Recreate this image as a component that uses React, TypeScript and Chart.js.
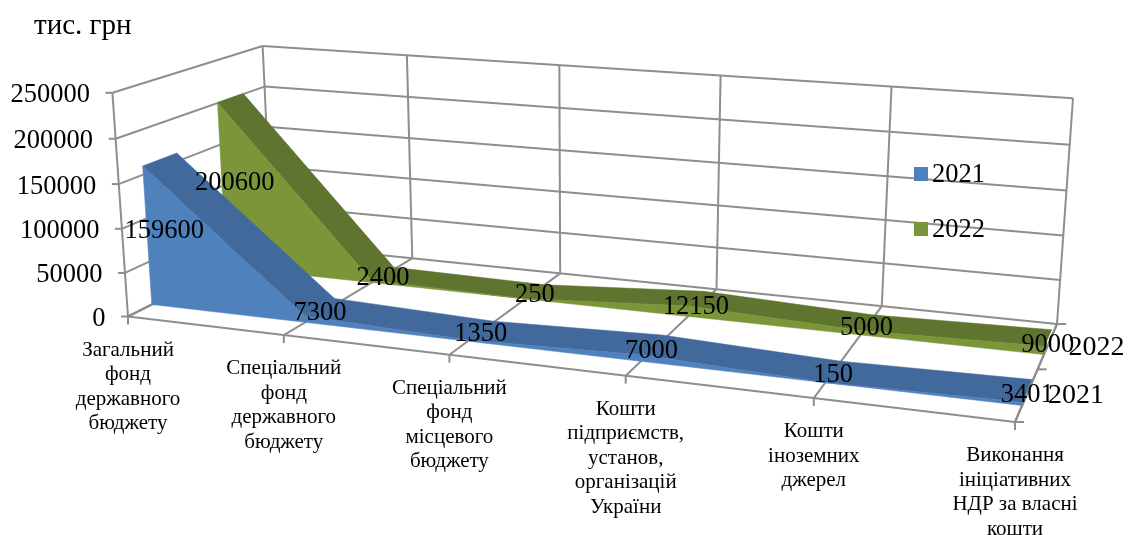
import React, { useEffect, useRef } from "react";
import { Chart, LineController, LineElement, PointElement, CategoryScale, LinearScale } from "chart.js";

// Funding sources and amounts, thousand UAH
const categories: string[][] = [
  ["Загальний", "фонд", "державного", "бюджету"],
  ["Спеціальний", "фонд", "державного", "бюджету"],
  ["Спеціальний", "фонд", "місцевого", "бюджету"],
  ["Кошти", "підприємств,", "установ,", "організацій", "України"],
  ["Кошти", "іноземних", "джерел"],
  ["Виконання", "ініціативних", "НДР за власні", "кошти"],
];
const values2021 = [159600, 7300, 1350, 7000, 150, 3401];
const values2022 = [200600, 2400, 250, 12150, 5000, 9000];
const seriesNames = ["2021", "2022"];
const frontColors = ["#4F81BD", "#7B9539"];
const ridgeColors = ["#41699B", "#5F752F"];
const unitLabel = "тис. грн";

// Extent of each series along the depth axis (0 = front, 1 = back wall)
const depthBands = [
  [0.148, 0.365],
  [0.655, 0.84],
];

type Pt = { x: number; y: number };
const P = (x: number, y: number): Pt => ({ x, y });

// Solves the 3x3 linear system M s = r by Cramer's rule
function solve3(M: number[][], r: number[]) {
  const det = (m: number[][]) =>
    m[0][0] * (m[1][1] * m[2][2] - m[1][2] * m[2][1]) -
    m[0][1] * (m[1][0] * m[2][2] - m[1][2] * m[2][0]) +
    m[0][2] * (m[1][0] * m[2][1] - m[1][1] * m[2][0]);
  const d = det(M);
  return [0, 1, 2].map((c) => det(M.map((row, i) => row.map((val, j) => (j === c ? r[i] : val)))) / d);
}

// Single projective camera for the box: u along categories, v into depth, h upward.
// The floor fixes everything except the height column, which is fitted to the ceiling corners.
function makeCamera(p0: Pt, p1: Pt, p2: Pt, p3: Pt, top: { u: number; v: number; at: Pt }[]) {
  const sx = p0.x - p1.x + p2.x - p3.x;
  const sy = p0.y - p1.y + p2.y - p3.y;
  const dx1 = p1.x - p2.x, dx2 = p3.x - p2.x, dy1 = p1.y - p2.y, dy2 = p3.y - p2.y;
  const det = dx1 * dy2 - dx2 * dy1;
  const g = (sx * dy2 - dx2 * sy) / det;
  const k = (dx1 * sy - sx * dy1) / det;
  const a = p1.x - p0.x + g * p1.x, b = p3.x - p0.x + k * p3.x;
  const d = p1.y - p0.y + g * p1.y, e = p3.y - p0.y + k * p3.y;

  // Unknowns [cx, cy, ci]: cx - X ci = X w - Nx, cy - Y ci = Y w - Ny
  const rows: number[][] = [];
  const rhs: number[] = [];
  top.forEach(({ u, v, at }) => {
    const w = g * u + k * v + 1;
    rows.push([1, 0, -at.x]);
    rhs.push(at.x * w - (a * u + b * v + p0.x));
    rows.push([0, 1, -at.y]);
    rhs.push(at.y * w - (d * u + e * v + p0.y));
  });
  const normal = [0, 1, 2].map((i) => [0, 1, 2].map((j) => rows.reduce((s, r) => s + r[i] * r[j], 0)));
  const target = [0, 1, 2].map((i) => rows.reduce((s, r, n) => s + r[i] * rhs[n], 0));
  const [cx, cy, ci] = solve3(normal, target);

  return (u: number, v: number, h: number): Pt => {
    const w = g * u + k * v + ci * h + 1;
    return P((a * u + b * v + cx * h + p0.x) / w, (d * u + e * v + cy * h + p0.y) / w);
  };
}

const project = makeCamera(P(128, 316.5), P(1015, 422), P(1057, 324), P(272, 244), [
  { u: 0, v: 0, at: P(112, 93) },
  { u: 0, v: 1, at: P(263, 47) },
  { u: 1, v: 1, at: P(1073, 97) },
]);

const decimalOf = (scale: any, value: number) => scale.getDecimalForPixel(scale.getPixelForValue(value));

const serif = '"Liberation Serif", "Times New Roman", serif';
const gridColor = "#8E8E8E";

// Area chart extruded along the depth axis: ridge first, front face over it
class Area3DController extends LineController {
  static id = "area3d";
  static defaults = { ...LineController.defaults };
  static overrides = LineController.overrides;

  draw() {
    const ctx = this.chart.ctx;
    const meta = this.getMeta();
    const xs = meta.xScale as any, ys = meta.yScale as any;
    const [v0, v1] = depthBands[this.index];
    const n = meta.data.length;
    const uAt = (i: number) => decimalOf(xs, i);
    const hAt = (i: number) => decimalOf(ys, this.getParsed(i).y as number);
    const fillPoly = (pts: Pt[], color: string) => {
      ctx.beginPath();
      pts.forEach((p, k) => (k ? ctx.lineTo(p.x, p.y) : ctx.moveTo(p.x, p.y)));
      ctx.closePath();
      ctx.fillStyle = color;
      ctx.strokeStyle = color;
      ctx.lineWidth = 0.5;
      ctx.fill();
      ctx.stroke();
    };
    ctx.save();
    for (let i = 0; i < n - 1; i++) {
      fillPoly(
        [
          project(uAt(i), v0, hAt(i)),
          project(uAt(i), v1, hAt(i)),
          project(uAt(i + 1), v1, hAt(i + 1)),
          project(uAt(i + 1), v0, hAt(i + 1)),
        ],
        ridgeColors[this.index]
      );
    }
    const front: Pt[] = [project(uAt(0), v0, 0)];
    for (let i = 0; i < n; i++) front.push(project(uAt(i), v0, hAt(i)));
    front.push(project(uAt(n - 1), v0, 0));
    fillPoly(front, frontColors[this.index]);
    ctx.restore();
  }
}

const line = (ctx: CanvasRenderingContext2D, a: Pt, b: Pt) => {
  ctx.beginPath();
  ctx.moveTo(a.x, a.y);
  ctx.lineTo(b.x, b.y);
  ctx.stroke();
};

// Walls, floor and their tick marks, behind the series
const boxPlugin = {
  id: "box3d",
  beforeDatasetsDraw(chart: any) {
    const { ctx, scales } = chart;
    const xs = scales.x, ys = scales.y;
    const count = chart.data.labels.length;
    ctx.save();
    ctx.strokeStyle = gridColor;
    ctx.lineWidth = 2;
    ys.ticks.forEach((t: any) => {
      const h = decimalOf(ys, t.value);
      const front = project(0, 0, h);
      const back = project(0, 1, h);
      const right = project(1, 1, h);
      line(ctx, P(front.x - 7, front.y), front);
      line(ctx, front, back);
      line(ctx, back, right);
    });
    for (let i = 0; i < count; i++) {
      const u = decimalOf(xs, i);
      const f = project(u, 0, 0);
      line(ctx, P(f.x, f.y + 8), f);
      line(ctx, f, project(u, 1, 0));
      line(ctx, project(u, 1, 0), project(u, 1, 1));
    }
    line(ctx, project(0, 0, 0), project(1, 0, 0));
    line(ctx, project(1, 0, 0), project(1, 1, 0));
    line(ctx, project(0, 0, 0), project(0, 0, 1));
    [0, 0.5, 1].forEach((v) => {
      const p = project(1, v, 0);
      line(ctx, p, P(p.x + 9, p.y));
    });
    ctx.restore();
  },
  // Text sits on top of everything
  afterDatasetsDraw(chart: any) {
    const { ctx, scales } = chart;
    const xs = scales.x, ys = scales.y;
    const datasets = chart.data.datasets;
    ctx.save();
    ctx.fillStyle = "#000";
    ctx.textBaseline = "middle";

    ctx.font = `26.5px ${serif}`;
    ctx.textAlign = "center";
    datasets.forEach((ds: any, d: number) => {
      const [v0, v1] = depthBands[d];
      ds.data.forEach((value: number, i: number) => {
        const p = project(decimalOf(xs, i), (v0 + v1) / 2, decimalOf(ys, value) / 2);
        ctx.fillText(String(value), p.x, p.y + 3);
      });
    });

    ctx.textAlign = "right";
    ys.ticks.forEach((t: any) => {
      const p = project(0, 0, decimalOf(ys, t.value));
      ctx.fillText(String(t.value), p.x - 22.5, p.y + 2.5);
    });

    ctx.textAlign = "left";
    seriesNames.forEach((name, d) => {
      const y = 174 + d * 55;
      ctx.fillText(name, 932, y + 1.5);
      ctx.fillStyle = frontColors[d];
      ctx.fillRect(914, y - 7, 14, 14);
      ctx.fillStyle = "#000";
    });

    ctx.font = `29px ${serif}`;
    ctx.fillText(unitLabel, 34, 26);

    ctx.font = `28px ${serif}`;
    seriesNames.forEach((name, d) => {
      const [v0, v1] = depthBands[d];
      const p = project(1, (v0 + v1) / 2, 0);
      ctx.fillText(name, p.x + 21, p.y + 2);
    });

    ctx.font = `21px ${serif}`;
    ctx.textAlign = "center";
    chart.data.labels.forEach((lines: string[], i: number) => {
      const p = project(decimalOf(xs, i), 0, 0);
      lines.forEach((text, k) => ctx.fillText(text, p.x, p.y + 33.5 + k * 24.5));
    });
    ctx.restore();
  },
};

Chart.register(LineController, LineElement, PointElement, CategoryScale, LinearScale, Area3DController);

export default function App() {
  const ref = useRef<HTMLCanvasElement>(null);
  useEffect(() => {
    document.body.style.margin = "0";
    const chart = new Chart(ref.current!, {
      type: "area3d" as any,
      data: {
        labels: categories as any,
        datasets: [
          { label: seriesNames[0], data: values2021 },
          { label: seriesNames[1], data: values2022 },
        ],
      },
      options: {
        responsive: false,
        animation: false,
        layout: { padding: 0 },
        plugins: { legend: { display: false }, tooltip: { enabled: false }, title: { display: false } },
        scales: {
          x: { type: "category", display: false, offset: false, ticks: { autoSkip: false } },
          y: { type: "linear", display: false, min: 0, max: 250000, ticks: { stepSize: 50000 } },
        },
      },
      plugins: [boxPlugin],
    } as any);
    return () => chart.destroy();
  }, []);
  return <canvas ref={ref} width={1138} height={535} style={{ display: "block" }} />;
}
